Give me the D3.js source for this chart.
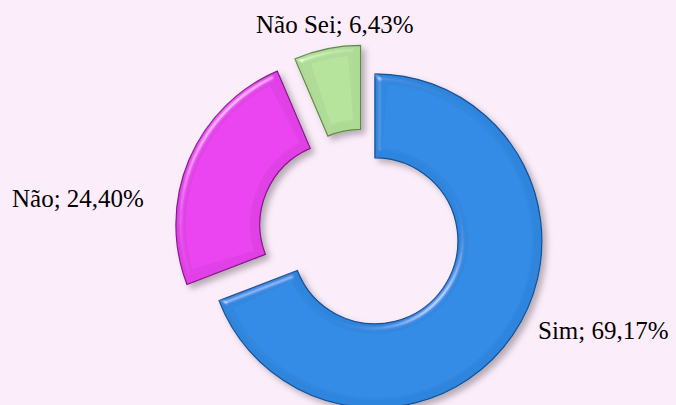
<!DOCTYPE html>
<html><head><meta charset="utf-8">
<script src="https://cdn.jsdelivr.net/npm/d3@7"></script>
<style>html,body{margin:0;padding:0;background:#FCEDFB;}svg{display:block;}
.lbl{font-family:"Liberation Serif","Times New Roman","DejaVu Serif",serif;font-size:25px;fill:#000;}</style>
</head><body>
<script>
const categories = ["Sim", "Não", "Não Sei"];
const values = [69.17, 24.40, 6.43];
const labels = ["Sim; 69,17%", "Não; 24,40%", "Não Sei; 6,43%"];
const colors = ["#2D85DD", "#E03FE6", "#AEDA96"];
const edgeColors = ["#174F92", "#801A86", "#5E8A46"];
const explode = [12, 24, 22];

const W = 676, H = 405;
const cx = 365, cy = 234, R = 167, r = 83;

const svg = d3.select("body").append("svg").attr("width", W).attr("height", H);
svg.append("rect").attr("width", W).attr("height", H).attr("fill", "#FCEDFB");

const defs = svg.append("defs");
const f = defs.append("filter").attr("id", "bevel").attr("x", "-20%").attr("y", "-20%").attr("width", "140%").attr("height", "140%");
f.append("feGaussianBlur").attr("in", "SourceAlpha").attr("stdDeviation", 3).attr("result", "blur");
const sp = f.append("feSpecularLighting").attr("in", "blur").attr("surfaceScale", 5).attr("specularConstant", 0.7)
  .attr("specularExponent", 35).attr("lighting-color", "#ffffff").attr("result", "spec");
sp.append("feDistantLight").attr("azimuth", 225).attr("elevation", 35);
f.append("feComposite").attr("in", "spec").attr("in2", "SourceAlpha").attr("operator", "in").attr("result", "specIn");
f.append("feComposite").attr("in", "SourceGraphic").attr("in2", "specIn").attr("operator", "arithmetic")
  .attr("k1", 0).attr("k2", 1).attr("k3", 0.6).attr("k4", 0).attr("result", "lit");
f.append("feGaussianBlur").attr("in", "SourceAlpha").attr("stdDeviation", 3).attr("result", "sblur");
f.append("feOffset").attr("in", "sblur").attr("dx", 4).attr("dy", 4).attr("result", "soff");
f.append("feFlood").attr("flood-color", "#000").attr("flood-opacity", 0.28).attr("result", "sc");
f.append("feComposite").attr("in", "sc").attr("in2", "soff").attr("operator", "in").attr("result", "shadow");
const m = f.append("feMerge");
m.append("feMergeNode").attr("in", "shadow");
m.append("feMergeNode").attr("in", "lit");

const pie = d3.pie().sort(null).value(d => d)(values);
const arc = d3.arc().innerRadius(r).outerRadius(R);
const arcInner = d3.arc().innerRadius(r + 10).outerRadius(R - 10);

const g = svg.append("g").attr("transform", `translate(${cx},${cy})`);
pie.forEach((p, i) => {
  const mid = (p.startAngle + p.endAngle) / 2;
  const dx = Math.sin(mid) * explode[i], dy = -Math.cos(mid) * explode[i];
  const sg = g.append("g").attr("transform", `translate(${dx},${dy})`).attr("filter", "url(#bevel)");
  sg.append("path").attr("d", arc(p)).attr("fill", colors[i]).attr("stroke", edgeColors[i]).attr("stroke-width", 1.2);
  const pad = 10 / ((R + r) / 2);
  const q = {startAngle: p.startAngle + pad, endAngle: p.endAngle - pad};
  if (q.endAngle > q.startAngle) {
    sg.append("path").attr("d", arcInner(q)).attr("fill", d3.color(colors[i]).brighter(0.3)).attr("opacity", 0.35);
  }
});

const text = svg.append("g");
const labelPos = [[538, 339], [12, 207], [256, 33]];
labels.forEach((t, i) => {
  text.append("text").attr("class", "lbl").attr("x", labelPos[i][0]).attr("y", labelPos[i][1]).text(t);
});
</script>
</body></html>
